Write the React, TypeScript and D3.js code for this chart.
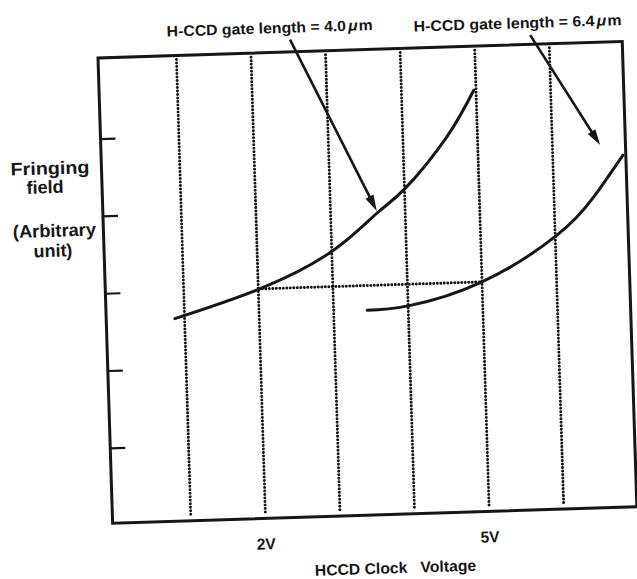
import * as d3 from "d3";
import React from "react";

// values (x = HCCD clock voltage in V, y = fringing field, arbitrary unit)
const gridVoltages = [1, 2, 3, 4, 5, 6];
const fieldTicks = [1, 2, 3, 4, 5];
const labeledVoltages = [2, 5];
const voltageLabels = ["2V", "5V"];

const gate40Voltage = [0.87, 2.02, 3.01, 3.62, 4.01, 4.59, 4.97];
const gate40Field = [2.65, 3.0, 3.46, 3.93, 4.24, 4.89, 5.48];

const gate64Voltage = [3.45, 4.0, 5.0, 6.02, 6.53, 6.94];
const gate64Field = [2.68, 2.72, 3.0, 3.57, 4.05, 4.58];

// dotted reference line joining the two curves at the same field level
const refLevel = 3;
const refFrom = 2;
const refTo = 5;

const seriesNames = ["H-CCD gate length = 4.0", "H-CCD gate length = 6.4"];
// arrow from label to curve: [tailV, tailF, tipV, tipF]
const arrows = [
  [2.53, 6.21, 3.62, 3.96],
  [5.75, 6.17, 6.64, 4.72],
];

const W = 637;
const H = 579;
const ink = "#161616";
const font = "'Liberation Sans', Arial, Helvetica, sans-serif";

export default function App() {
  const x = d3.scaleLinear().domain([-0.05, 6.98]).range([98, 622.5]);
  const y = d3.scaleLinear().domain([0.03, 6.05]).range([523.5, 58]);

  const line = d3.line<number>().curve(d3.curveNatural);

  const path40 = line(gate40Voltage.map((v, i) => [x(v), y(gate40Field[i])]) as any);
  const path64 = line(gate64Voltage.map((v, i) => [x(v), y(gate64Field[i])]) as any);

  const [x0, x1] = x.range();
  const [yb, yt] = y.range();

  // the scan is tilted a little
  const tilt = `rotate(-1.8, ${x0}, ${yt})`;

  const arrowHead = (a: number[]) => {
    const tx = x(a[2]);
    const ty = y(a[3]);
    const sx = x(a[0]);
    const sy = y(a[1]);
    const len = Math.hypot(tx - sx, ty - sy);
    const ux = (tx - sx) / len;
    const uy = (ty - sy) / len;
    const hl = 16;
    const hw = 4.5;
    const bx = tx - ux * hl;
    const by = ty - uy * hl;
    return {
      line: [sx, sy, bx + ux * 2, by + uy * 2],
      head: `${tx},${ty} ${bx - uy * hw},${by + ux * hw} ${bx + uy * hw},${by - ux * hw}`,
    };
  };

  const dotted = { stroke: ink, strokeWidth: 3, strokeLinecap: "round" as const, strokeDasharray: "0 3.5" };

  return (
    <svg width={W} height={H} style={{ position: "absolute", left: 0, top: 0, background: "#fff" }}>
      <g transform={tilt} fontFamily={font} fontWeight="bold" fill={ink}>
        {/* vertical dotted grid */}
        {gridVoltages.map((v) => (
          <line key={v} x1={x(v)} x2={x(v)} y1={yt + 4} y2={yb - 4} {...dotted} />
        ))}
        {/* horizontal dotted reference */}
        <line x1={x(refFrom) + 4} x2={x(refTo)} y1={y(refLevel)} y2={y(refLevel)} {...dotted} />

        {/* frame */}
        <rect x={x0} y={yt} width={x1 - x0} height={yb - yt} fill="none" stroke={ink} strokeWidth={3} />

        {/* y ticks, inward */}
        {fieldTicks.map((f) => (
          <line key={f} x1={x0} x2={x0 + 15} y1={y(f)} y2={y(f)} stroke={ink} strokeWidth={2.2} />
        ))}

        {/* curves */}
        <path d={path40 || ""} fill="none" stroke={ink} strokeWidth={3} strokeLinecap="round" />
        <path d={path64 || ""} fill="none" stroke={ink} strokeWidth={3} strokeLinecap="round" />

        {/* arrows */}
        {arrows.map((a, i) => {
          const h = arrowHead(a);
          return (
            <g key={i}>
              <line x1={h.line[0]} y1={h.line[1]} x2={h.line[2]} y2={h.line[3]} stroke={ink} strokeWidth={2.6} />
              <polygon points={h.head} fill={ink} />
            </g>
          );
        })}

        {/* series labels */}
        <text x={270.5} y={38.7} fontSize={15} textAnchor="middle" textLength={206} lengthAdjust="spacingAndGlyphs">
          {seriesNames[0]}
          <tspan dx={2} fontStyle="italic">μ</tspan>
          <tspan dx={1}>m</tspan>
        </text>
        <text x={518.4} y={41.5} fontSize={15} textAnchor="middle" textLength={208} lengthAdjust="spacingAndGlyphs">
          {seriesNames[1]}
          <tspan dx={2} fontStyle="italic">μ</tspan>
          <tspan dx={1}>m</tspan>
        </text>

        {/* y axis title */}
        <text x={46.5} y={172.8} fontSize={18} textAnchor="middle" textLength={79} lengthAdjust="spacingAndGlyphs">Fringing</text>
        <text x={41} y={191.6} fontSize={18} textAnchor="middle" textLength={37} lengthAdjust="spacingAndGlyphs">field</text>
        <text x={49} y={235.3} fontSize={18} textAnchor="middle" textLength={83} lengthAdjust="spacingAndGlyphs">(Arbitrary</text>
        <text x={47} y={255.3} fontSize={18} textAnchor="middle" textLength={38.7} lengthAdjust="spacingAndGlyphs">unit)</text>

        {/* x tick labels */}
        {labeledVoltages.map((v, i) => (
          <text key={v} x={x(v)} y={yb + 31} fontSize={16} textAnchor="middle" textLength={19} lengthAdjust="spacingAndGlyphs">
            {voltageLabels[i]}
          </text>
        ))}

        {/* x axis title */}
        <text x={344.9} y={582.3} fontSize={15.5} textAnchor="middle" textLength={92.4} lengthAdjust="spacingAndGlyphs">HCCD Clock</text>
        <text x={432.2} y={582.3} fontSize={15.5} textAnchor="middle" textLength={55.8} lengthAdjust="spacingAndGlyphs">Voltage</text>
      </g>
    </svg>
  );
}
